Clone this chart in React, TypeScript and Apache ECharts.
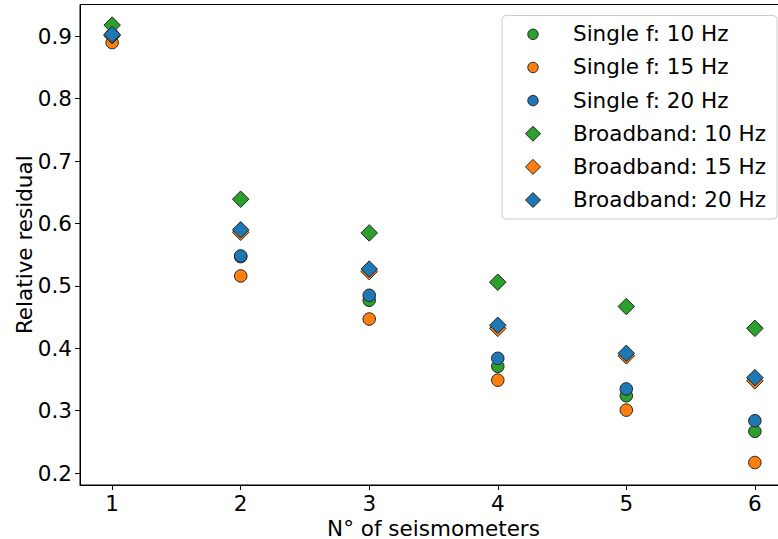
import React, { useEffect, useRef } from "react";
import * as echarts from "echarts";

const nSeismometers = [1, 2, 3, 4, 5, 6];
const single10 = [0.902, 0.547, 0.477, 0.371, 0.324, 0.267];
const single15 = [0.890, 0.516, 0.447, 0.349, 0.301, 0.217];
const single20 = [0.903, 0.548, 0.485, 0.384, 0.335, 0.284];
const broad10 = [0.918, 0.639, 0.585, 0.506, 0.467, 0.432];
const broad15 = [0.901, 0.586, 0.523, 0.432, 0.388, 0.348];
const broad20 = [0.903, 0.590, 0.527, 0.437, 0.392, 0.353];
const yTicks = [0.2, 0.3, 0.4, 0.5, 0.6, 0.7, 0.8, 0.9];
const xTicks = [1, 2, 3, 4, 5, 6];

const GREEN = "#2ca02c";
const ORANGE = "#ff7f0e";
const BLUE = "#1f77b4";
const FONT = "DejaVu Sans";

const seriesDefs = [
  { name: "Single f: 10 Hz", data: single10, color: GREEN, symbol: "circle" },
  { name: "Single f: 15 Hz", data: single15, color: ORANGE, symbol: "circle" },
  { name: "Single f: 20 Hz", data: single20, color: BLUE, symbol: "circle" },
  { name: "Broadband: 10 Hz", data: broad10, color: GREEN, symbol: "diamond" },
  { name: "Broadband: 15 Hz", data: broad15, color: ORANGE, symbol: "diamond" },
  { name: "Broadband: 20 Hz", data: broad20, color: BLUE, symbol: "diamond" },
];

export default function App() {
  const ref = useRef<HTMLDivElement>(null);
  useEffect(() => {
    if (!ref.current) return;
    const chart = echarts.init(ref.current, null, { renderer: "svg" });

    const legendLeft = 502;
    const legendTop = 15.5;
    const rowY0 = 34.3;
    const rowPitch = 33.15;
    const markerX = 533;
    const textX = 573;
    const legendItems: any[] = [
      {
        type: "rect",
        shape: { x: legendLeft, y: legendTop, width: 275, height: 203.5, r: 4 },
        style: { fill: "rgba(255,255,255,0.8)", stroke: "#cccccc", lineWidth: 1 },
        z: 100,
      },
    ];
    seriesDefs.forEach((s, i) => {
      const cy = rowY0 + i * rowPitch;
      if (s.symbol === "circle") {
        legendItems.push({
          type: "circle",
          shape: { cx: markerX, cy, r: 5.2 },
          style: { fill: s.color, stroke: "#222", lineWidth: 1 },
          z: 101,
        });
      } else {
        const h = 7.5;
        legendItems.push({
          type: "polygon",
          shape: { points: [[markerX, cy - h], [markerX + h, cy], [markerX, cy + h], [markerX - h, cy]] },
          style: { fill: s.color, stroke: "#222", lineWidth: 1 },
          z: 101,
        });
      }
      legendItems.push({
        type: "text",
        x: textX,
        y: cy - 0.5,
        style: {
          text: s.name,
          fontFamily: FONT,
          fontSize: 21.5,
          fill: "#000",
          textVerticalAlign: "middle",
          verticalAlign: "middle",
        },
        z: 101,
      });
    });

    chart.setOption({
      animation: false,
      backgroundColor: "#fff",
      grid: {
        left: 80,
        top: 4.5,
        right: -9,
        bottom: 54,
        containLabel: false,
        outerBoundsMode: "none",
        show: true,
        borderColor: "#000",
        borderWidth: 1,
        backgroundColor: "transparent",
      },
      xAxis: {
        type: "value",
        min: 0.75,
        max: 6.25,
        name: "N° of seismometers",
        nameLocation: "middle",
        nameGap: 34,
        nameMoveOverlap: false,
        nameTextStyle: { fontFamily: FONT, fontSize: 21.5, color: "#000", lineHeight: 18 },
        axisLine: { show: true, lineStyle: { color: "#000", width: 1 } },
        axisTick: { show: true, length: 5, lineStyle: { color: "#000" }, customValues: xTicks },
        axisLabel: {
          fontFamily: FONT,
          fontSize: 21.5,
          color: "#000",
          margin: 7,
          customValues: xTicks,
          formatter: (v: number) => String(v),
        },
        splitLine: { show: false },
      },
      yAxis: {
        type: "value",
        min: 0.181,
        max: 0.951,
        name: "Relative residual",
        nameLocation: "middle",
        nameGap: 45,
        nameMoveOverlap: false,
        nameTextStyle: { fontFamily: FONT, fontSize: 21.5, color: "#000" },
        axisLine: { show: true, lineStyle: { color: "#000", width: 1 } },
        axisTick: { show: true, length: 5, lineStyle: { color: "#000" }, customValues: yTicks },
        axisLabel: {
          fontFamily: FONT,
          fontSize: 21.5,
          color: "#000",
          margin: 8,
          customValues: yTicks,
          formatter: (v: number) => v.toFixed(1),
        },
        splitLine: { show: false },
      },
      series: seriesDefs.map((s) => ({
        type: "scatter",
        name: s.name,
        symbol: s.symbol,
        symbolSize: s.symbol === "circle" ? 12.5 : 16.5,
        data: nSeismometers.map((x, i) => [x, s.data[i]]),
        itemStyle: { color: s.color, borderColor: "#222", borderWidth: 1, opacity: 1 },
        emphasis: { disabled: true },
      })),
      graphic: legendItems,
    });
    return () => chart.dispose();
  }, []);
  return (
    <div
      ref={ref}
      style={{ position: "fixed", left: 0, top: 0, width: 778, height: 539 }}
    />
  );
}
